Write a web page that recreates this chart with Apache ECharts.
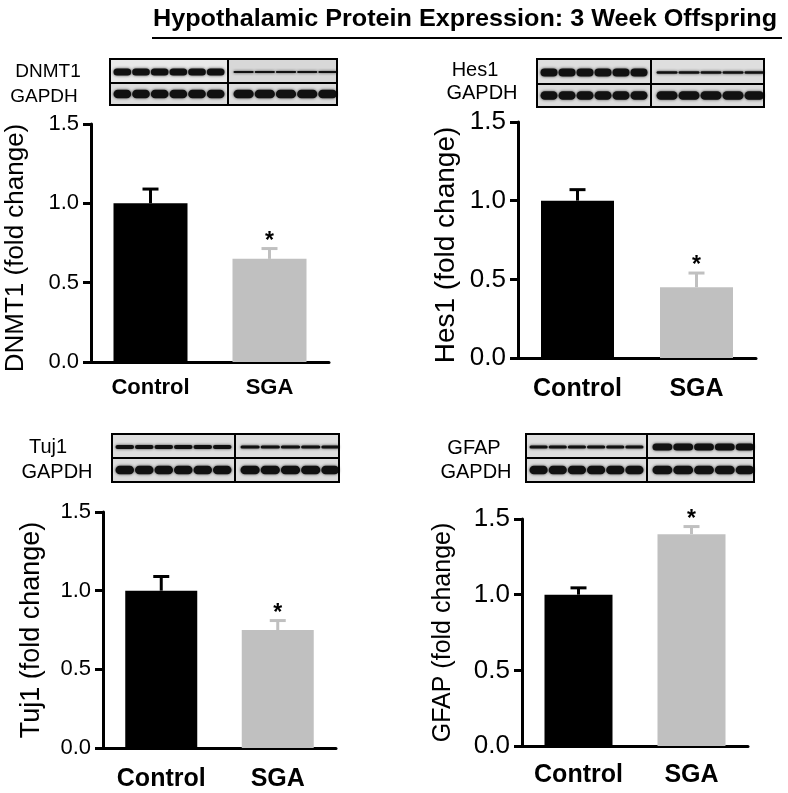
<!DOCTYPE html>
<html>
<head>
<meta charset="utf-8">
<script src="https://cdn.jsdelivr.net/npm/echarts@6/dist/echarts.min.js"></script>
<style>html,body{margin:0;padding:0;background:#fff}#c{width:788px;height:793px}</style>
</head>
<body>
<div id="c"></div>
<script>
// ---- data ----
const categories = ['Control', 'SGA'];
const yTicks = [0, 0.5, 1.0, 1.5];
const dnmt1Mean = [1.00, 0.65];
const dnmt1Err = [0.09, 0.065];
const hes1Mean = [1.00, 0.45];
const hes1Err = [0.07, 0.09];
const tuj1Mean = [1.00, 0.75];
const tuj1Err = [0.09, 0.06];
const gfapMean = [1.00, 1.40];
const gfapErr = [0.045, 0.05];
const significant = [false, true];
const panelTitles = ['DNMT1', 'Hes1', 'Tuj1', 'GFAP'];
const titleText = 'Hypothalamic Protein Expression: 3 Week Offspring';

// ---- styling / layout ----
const FONT = 'Liberation Sans, Arial, sans-serif';
const BAR_COLORS = ['#000000', '#c0c0c0'];
const panels = [
  {mean: dnmt1Mean, err: dnmt1Err, grid: {left: 91, top: 124, width: 238, height: 238}, barW: 74, tick: 22, ttl: 26, gap: 62, pad: 10, xl: 22, xm: 15,
   blot: {x: 110, y: 59, w: 227, h: 46, div: 228, row: 83, top: [7, 2], topShade: ['#e9e9e9', '#d8d8d8']},
   lbl: [{t: 'DNMT1', x: 48, y: 72}, {t: 'GAPDH', x: 44, y: 97}], lblSize: 19},
  {mean: hes1Mean, err: hes1Err, grid: {left: 518, top: 122, width: 238, height: 236}, barW: 73, tick: 26, ttl: 28, gap: 58, pad: 10, xl: 25, xm: 19,
   blot: {x: 537, y: 59, w: 227, h: 48, div: 651, row: 84, top: [8, 2.5], topShade: ['#dedede', '#dedede']},
   lbl: [{t: 'Hes1', x: 475, y: 70}, {t: 'GAPDH', x: 482, y: 93}], lblSize: 20},
  {mean: tuj1Mean, err: tuj1Err, grid: {left: 103, top: 512, width: 233, height: 236}, barW: 72, tick: 22, ttl: 27, gap: 58, pad: 0, xl: 25, xm: 19,
   blot: {x: 112, y: 434, w: 227, h: 48, div: 235, row: 458, top: [4, 3], topShade: ['#dedede', '#dedede']},
   lbl: [{t: 'Tuj1', x: 48, y: 447}, {t: 'GAPDH', x: 57, y: 472}], lblSize: 20},
  {mean: gfapMean, err: gfapErr, grid: {left: 522, top: 519, width: 226, height: 227}, barW: 68, tick: 26, ttl: 25, gap: 66, pad: 0, xl: 25, xm: 17,
   blot: {x: 526, y: 434, w: 228, h: 48, div: 647, row: 458, top: [3, 7], topShade: ['#dedede', '#dedede']},
   lbl: [{t: 'GFAP', x: 474, y: 448}, {t: 'GAPDH', x: 476, y: 472}], lblSize: 20}
];

const grids = [], xAxes = [], yAxes = [], series = [], graphics = [];

panels.forEach((p, i) => {
  grids.push(Object.assign({containLabel: false}, p.grid));
  xAxes.push({
    type: 'category', gridIndex: i, data: categories,
    axisTick: {show: false},
    axisLine: {lineStyle: {color: '#000', width: 3}},
    axisLabel: {color: '#000', fontWeight: 'bold', fontSize: p.xl, fontFamily: FONT, margin: p.xm, interval: 0, hideOverlap: false}
  });
  yAxes.push({
    type: 'value', gridIndex: i, min: yTicks[0], max: yTicks[yTicks.length - 1], interval: yTicks[1] - yTicks[0],
    splitLine: {show: false},
    axisLine: {show: true, lineStyle: {color: '#000', width: 3}},
    axisTick: {show: true, length: 8, lineStyle: {color: '#000', width: 3}},
    axisLabel: {color: '#000', fontSize: p.tick, fontFamily: FONT, margin: 12, formatter: v => v.toFixed(1)},
    name: panelTitles[i] + ' (fold change)', nameLocation: 'middle', nameGap: p.gap,
    nameTextStyle: {color: '#000', fontSize: p.ttl, fontFamily: FONT, padding: [0, p.pad, 0, 0]}
  });
  series.push({
    type: 'bar', xAxisIndex: i, yAxisIndex: i, barWidth: p.barW, z: 3,
    data: p.mean.map((m, k) => ({value: m, itemStyle: {color: BAR_COLORS[k]}}))
  });
  series.push({
    type: 'custom', xAxisIndex: i, yAxisIndex: i, z: 2,
    data: p.mean.map((m, k) => [k, m, p.err[k], significant[k] ? 1 : 0]),
    renderItem: (params, api) => {
      const k = api.value(0), m = api.value(1), e = api.value(2);
      const a = api.coord([k, m]), b = api.coord([k, m + e]);
      const col = BAR_COLORS[k];
      const ch = [
        {type: 'line', shape: {x1: a[0], y1: a[1], x2: b[0], y2: b[1]}, style: {stroke: col, lineWidth: 3}},
        {type: 'line', shape: {x1: b[0] - 8, y1: b[1], x2: b[0] + 8, y2: b[1]}, style: {stroke: col, lineWidth: 3}}
      ];
      if (api.value(3)) ch.push({type: 'text', x: b[0], y: b[1] - 7,
        style: {text: '*', fill: '#000', font: 'bold 23px ' + FONT, align: 'center', verticalAlign: 'middle'}});
      return {type: 'group', children: ch};
    }
  });

  // blot picture (decorative)
  const bl = p.blot;
  graphics.push({type: 'rect', shape: {x: bl.x, y: bl.y, width: bl.div - bl.x, height: bl.row - bl.y}, style: {fill: bl.topShade[0]}});
  graphics.push({type: 'rect', shape: {x: bl.div, y: bl.y, width: bl.x + bl.w - bl.div, height: bl.row - bl.y}, style: {fill: bl.topShade[1]}});
  graphics.push({type: 'rect', shape: {x: bl.x, y: bl.row, width: bl.w, height: bl.y + bl.h - bl.row}, style: {fill: '#dcdcdc'}});
  const rows = [{cy: (bl.y + bl.row) / 2 + 1, th: bl.top}, {cy: (bl.row + bl.y + bl.h) / 2, th: [8.5, 8.5]}];
  rows.forEach(r => {
    const lx0 = bl.x + 3, lx1 = bl.div - 3, lw = (lx1 - lx0) / 6;
    for (let j = 0; j < 6; j++) {
      graphics.push({type: 'rect', shape: {x: lx0 + j * lw + 0.5, y: r.cy - r.th[0] / 2, width: lw - 1, height: r.th[0], r: r.th[0] / 2},
        style: {fill: '#111', shadowBlur: 3, shadowColor: 'rgba(0,0,0,0.7)'}});
    }
    const rx0 = bl.div + 5, rx1 = bl.x + bl.w + 2, rw = (rx1 - rx0) / 5;
    for (let j = 0; j < 5; j++) {
      const w = Math.min(rw - 1, bl.x + bl.w - (rx0 + j * rw + 0.5));
      graphics.push({type: 'rect', shape: {x: rx0 + j * rw + 0.5, y: r.cy - r.th[1] / 2, width: w, height: r.th[1], r: r.th[1] / 2},
        style: {fill: '#111', shadowBlur: 3, shadowColor: 'rgba(0,0,0,0.7)'}});
    }
  });
  const bs = {stroke: '#000', lineWidth: 2, fill: null};
  graphics.push({type: 'rect', shape: {x: bl.x, y: bl.y, width: bl.w, height: bl.h}, style: Object.assign({}, bs)});
  graphics.push({type: 'line', shape: {x1: bl.x, y1: bl.row, x2: bl.x + bl.w, y2: bl.row}, style: Object.assign({}, bs)});
  graphics.push({type: 'line', shape: {x1: bl.div, y1: bl.y, x2: bl.div, y2: bl.y + bl.h}, style: Object.assign({}, bs)});
  p.lbl.forEach(l => graphics.push({type: 'text', x: l.x, y: l.y,
    style: {text: l.t, fill: '#000', font: p.lblSize + 'px ' + FONT, align: 'center', verticalAlign: 'middle'}}));
});

graphics.push({type: 'text', x: 465, y: 19, scaleX: 1.05, style: {text: titleText, fill: '#000', font: 'bold 24px ' + FONT, align: 'center', verticalAlign: 'middle'}});
graphics.push({type: 'line', shape: {x1: 152, y1: 38, x2: 782, y2: 38}, style: {stroke: '#000', lineWidth: 2}});

const chart = echarts.init(document.getElementById('c'), null, {renderer: 'canvas'});
chart.setOption({
  animation: false,
  backgroundColor: '#fff',
  textStyle: {fontFamily: FONT},
  grid: grids, xAxis: xAxes, yAxis: yAxes, series: series,
  graphic: {elements: graphics}
});
</script>
</body>
</html>
